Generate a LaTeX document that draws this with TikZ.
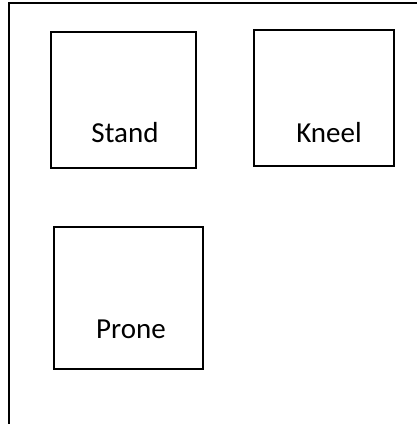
\documentclass[tikz,border=0pt]{standalone}
\usepackage{fontspec}
\setmainfont{Carlito}
\begin{document}
\begin{tikzpicture}[x=1pt,y=-1pt,
    posbox/.style={draw, line width=1.6pt, inner sep=0pt},
    poslabel/.style={font=\fontsize{29}{31}\selectfont}]
    \useasboundingbox (0,0) rectangle (417,424);

    % Frame
    \draw[line width=1.6pt] (9,424) -- (9,3) -- (417,3);

    % Boxes
    \node[posbox, minimum width=145pt, minimum height=136pt] (standbox) at (123.5,100) {};
    \node[posbox, minimum width=140pt, minimum height=136pt] (kneelbox) at (324,98) {};
    \node[posbox, minimum width=149pt, minimum height=142pt] (pronebox) at (128.5,298) {};

    % Labels
    \node[poslabel] (stand) at (125,133) {Stand};
    \node[poslabel] (kneel) at (329,133) {Kneel};
    \node[poslabel] (prone) at (131,329) {Prone};

\end{tikzpicture}
\end{document}
